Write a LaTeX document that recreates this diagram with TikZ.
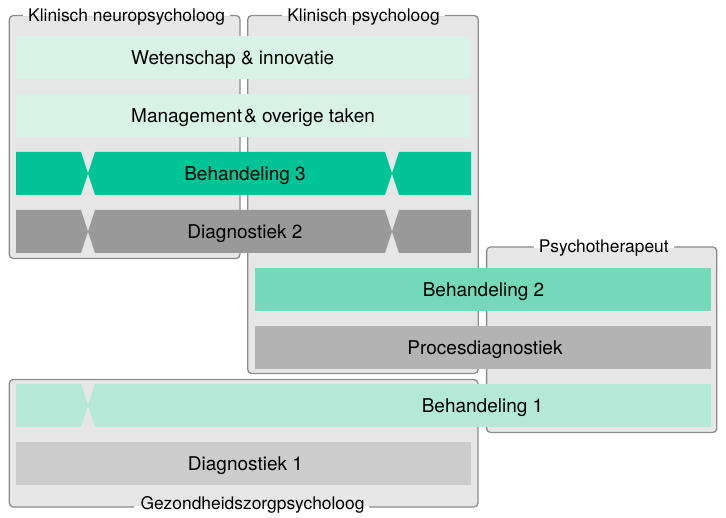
\documentclass[tikz,border=0pt]{standalone}
\usepackage{fontspec}
\setmainfont{TeX Gyre Heros}
\usetikzlibrary{calc}
\definecolor{framefill}{HTML}{E6E6E6}
\definecolor{frameline}{HTML}{8C8C8C}
\definecolor{mintpale}{HTML}{D9F2E8}
\definecolor{greenbold}{HTML}{00C396}
\definecolor{greymid}{HTML}{999999}
\definecolor{greenmid}{HTML}{73D9B8}
\definecolor{greylight}{HTML}{B3B3B3}
\definecolor{mintlight}{HTML}{B3E9D6}
\definecolor{greypale}{HTML}{CCCCCC}
\pgfdeclarelayer{back}
\pgfdeclarelayer{mid}
\pgfsetlayers{back,mid,main}
\begin{document}
\begin{tikzpicture}[x=1pt,y=-1pt,
  frame/.style={draw=frameline, fill=framefill, line width=1.3pt, rounded corners=4pt,
                inner sep=0pt, outer sep=0pt, anchor=north west},
  flabel/.style={inner sep=0pt, anchor=base, font=\fontsize{17.4}{20}\selectfont},
  btext/.style={inner sep=0pt, anchor=base, font=\fontsize{19}{22}\selectfont},
  gap/.style={fill=white},
]
\useasboundingbox (0,0) rectangle (726,518);

% frames
\begin{pgfonlayer}{back}
\node[frame, minimum width=230.7pt, minimum height=243pt] (f1) at (9.3,15.5) {};
\node[frame, minimum width=230.5pt, minimum height=358pt] (f2) at (247.7,15.5) {};
\node[frame, minimum width=230.2pt, minimum height=185.5pt] (f3) at (486.6,247) {};
\node[frame, minimum width=468.7pt, minimum height=127.5pt] (f4) at (9.3,379.5) {};
\end{pgfonlayer}

% frame labels
\node[flabel] (l1) at (126.6,21.2) {Klinisch neuropsycholoog};
\node[flabel] (l2) at (363.5,21.2) {Klinisch psycholoog};
\node[flabel] (l3) at (603.8,252.8) {Psychotherapeut};
\node[flabel] (l4) at (252.5,510) {Gezondheidszorgpsycholoog};

\begin{pgfonlayer}{mid}
\fill[gap] ($(l1.west |- f1.north)+(-5,-2)$) rectangle ($(l1.east |- f1.north)+(5,0.65)$);
\fill[gap] ($(l2.west |- f2.north)+(-5,-2)$) rectangle ($(l2.east |- f2.north)+(5,0.65)$);
\fill[gap] ($(l3.west |- f3.north)+(-5,-2)$) rectangle ($(l3.east |- f3.north)+(5,0.65)$);
\fill[gap] ($(l4.west |- f4.south)+(-6,-0.65)$) rectangle ($(l4.east |- f4.south)+(4,2)$);
\end{pgfonlayer}

% Wetenschap & innovatie
\fill[mintpale] (16,36) rectangle (471,79);
\node[btext, anchor=base west] (t1) at (131,64.5) {Wetenschap \& innovatie};

% Management & overige taken
\fill[mintpale] (16,94) rectangle (471,137);
\node[btext, anchor=base west] (t2) at (131,122.5) {Management\hspace{2pt}\& overige taken};

% Behandeling 3
\fill[greenbold] (16,152) -- (81,152) -- (88,173.5) -- (81,195) -- (16,195) -- cycle;
\fill[greenbold] (95,152) -- (385,152) -- (392,173.5) -- (385,195) -- (95,195) -- (88,173.5) -- cycle;
\fill[greenbold] (399,152) -- (471,152) -- (471,195) -- (399,195) -- (392,173.5) -- cycle;
\node[btext] (t3) at (245,180.5) {Behandeling 3};

% Diagnostiek 2
\fill[greymid] (16,210) -- (81,210) -- (88,231.5) -- (81,253) -- (16,253) -- cycle;
\fill[greymid] (95,210) -- (385,210) -- (392,231.5) -- (385,253) -- (95,253) -- (88,231.5) -- cycle;
\fill[greymid] (399,210) -- (471,210) -- (471,253) -- (399,253) -- (392,231.5) -- cycle;
\node[btext] (t4) at (245,238.5) {Diagnostiek 2};

% Behandeling 2
\fill[greenmid] (254.5,268) rectangle (711,311);
\node[btext] (t5) at (483.5,296.5) {Behandeling 2};

% Procesdiagnostiek
\fill[greylight] (254.5,326) rectangle (711,369);
\node[btext] (t6) at (485,354.5) {Procesdiagnostiek};

% Behandeling 1
\fill[mintlight] (16,384) -- (81,384) -- (88,405.5) -- (81,427) -- (16,427) -- cycle;
\fill[mintlight] (95,384) -- (711,384) -- (711,427) -- (95,427) -- (88,405.5) -- cycle;
\node[btext] (t7) at (482.5,412.5) {Behandeling 1};

% Diagnostiek 1
\fill[greypale] (16,442) rectangle (471,485);
\node[btext] (t8) at (245.5,470.5) {Diagnostiek 1};
\end{tikzpicture}
\end{document}
